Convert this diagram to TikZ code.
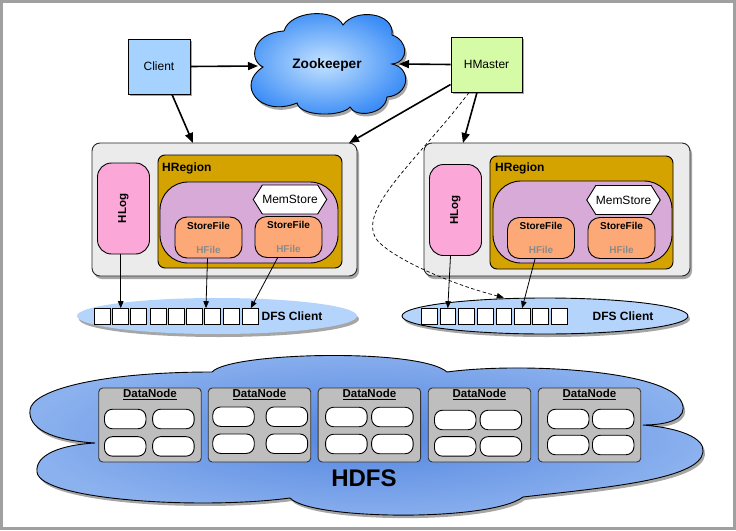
\documentclass[tikz,border=0pt]{standalone}
\usepackage{fontspec}
\setmainfont{Liberation Sans}
\usepackage{graphicx}
\usetikzlibrary{arrows.meta,shapes.geometric,shapes.symbols,shadows}
\definecolor{clientc}{HTML}{A6D2FF}
\definecolor{masterc}{HTML}{D6FBA6}
\definecolor{rsc}{HTML}{EBEBEB}
\definecolor{hlogc}{HTML}{FBA8D8}
\definecolor{hregc}{HTML}{D4A300}
\definecolor{storec}{HTML}{D7AAD7}
\definecolor{sfc}{HTML}{FDA977}
\definecolor{dfsc}{HTML}{B4D4FB}
\definecolor{dnc}{HTML}{BEBEBE}
\definecolor{zkin}{HTML}{C4E2FF}
\definecolor{zkout}{HTML}{3A8CF6}
\definecolor{hdin}{HTML}{5385E0}
\definecolor{hdout}{HTML}{8BB1EE}
\definecolor{hfilec}{HTML}{8A8A8A}
\definecolor{framec}{HTML}{A0A0A0}
\newcommand\myfs[1]{\fontsize{#1}{#1}\selectfont}
\begin{document}
\begin{tikzpicture}[x=1pt,y=-1pt,
 shd/.style={drop shadow={shadow xshift=2pt,shadow yshift=-3pt,opacity=0.35,fill=black}},
 sshd/.style={drop shadow={shadow xshift=1.5pt,shadow yshift=-1.5pt,opacity=0.35,fill=black}},
 box/.style={draw=black,line width=0.9pt,inner sep=0pt},
 topbox/.style={box,minimum height=55pt,font=\myfs{12},sshd},
 rsbox/.style={box,draw=black!85,fill=rsc,rounded corners=8pt,minimum width=265pt,minimum height=133pt,shd},
 hlog/.style={box,fill=hlogc,rounded corners=14pt,minimum width=52pt,minimum height=91pt,font=\bfseries\myfs{11.5}},
 hreg/.style={box,fill=hregc,rounded corners=7pt,minimum width=184pt,minimum height=113pt},
 store/.style={box,fill=storec,rounded corners=28pt,minimum width=178pt,minimum height=81pt},
 mem/.style={box,fill=white,signal,signal to=east and west,signal pointer angle=116,minimum width=72pt,minimum height=29pt,font=\myfs{12}},
 sfile/.style={box,fill=sfc,rounded corners=12pt,minimum width=67pt,minimum height=41pt,align=center,font=\bfseries\fontsize{10}{24}\selectfont},
 dfs/.style={ellipse,fill=dfsc,inner sep=0pt,minimum height=36pt,shd},
 dbox/.style={box,fill=white,minimum size=15.7pt},
 dnode/.style={box,draw=black!80,fill=dnc,rounded corners=4pt,minimum width=102.5pt,minimum height=74pt},
 pill/.style={box,fill=white,rounded corners=8pt,minimum width=41.5pt,minimum height=19.5pt},
 lbl/.style={inner sep=0pt,font=\bfseries\myfs{12}},
 arr/.style={line width=1.6pt,-{Triangle[length=10pt,width=8pt]}},
 tarr/.style={line width=0.8pt,-{Triangle[length=7pt,width=5.5pt]}},
 darr/.style={line width=0.7pt,dash pattern=on 3.5pt off 2.5pt,-{Triangle[length=7pt,width=5.5pt]}},
]
\useasboundingbox (0,0) rectangle (736,530);
\fill[white] (0,0) rectangle (736,530);
\draw[framec,line width=3pt] (1.5,1.5) rectangle (734.5,528.5);

% Zookeeper cloud
\path[draw=black,line width=0.9pt,inner color=zkin,outer color=zkout,shd]
 (263,67) .. controls (248,60) and (252,33) .. (284,31)
 .. controls (290,10) and (335,8) .. (343,25)
 .. controls (355,8) and (395,12) .. (392,35)
 .. controls (408,40) and (410,62) .. (392,64)
 .. controls (412,68) and (410,95) .. (387,97)
 .. controls (385,115) and (355,118) .. (350,107)
 .. controls (342,117) and (300,117) .. (297,103)
 .. controls (260,118) and (235,85) .. (263,67) -- cycle;
\node[lbl,font=\bfseries\myfs{13.7}] (zk) at (327,65) {Zookeeper};

% HDFS cloud
\path[draw=black,line width=0.9pt,inner color=hdin,outer color=hdout,shd]
 (95,443) .. controls (50,440) and (28,428) .. (30,410)
 .. controls (32,390) and (100,372) .. (212,372)
 .. controls (230,352) and (420,348) .. (447,372)
 .. controls (520,362) and (670,370) .. (682,403)
 .. controls (688,418) and (670,425) .. (643,425)
 .. controls (680,428) and (705,438) .. (703,452)
 .. controls (700,480) and (600,488) .. (523,497)
 .. controls (490,522) and (310,520) .. (290,498)
 .. controls (200,510) and (40,500) .. (37,472)
 .. controls (35,455) and (60,445) .. (95,443) -- cycle;
\node[lbl,font=\bfseries\myfs{24}] (hdfs) at (364,478) {HDFS};

% DataNodes
\foreach \d/\cx/\xa/\xb/\ya/\yb in {1/150/125.2/173.4/419/446.4, 2/259.5/233.5/286.9/416.7/443.7, 3/369.4/346.4/392.4/417/444, 4/479.5/455.2/500.9/420/446.4, 5/589.5/568.2/613.2/419/445}{
 \node[dnode] (dn\d) at (\cx,425) {};
 \node[lbl,font=\bfseries\myfs{11.5},anchor=north] (dl\d) at ([yshift=-1.5pt]dn\d.north) {\underline{DataNode}};
 \node[pill] (p\d-1) at (\xa,\ya) {};
 \node[pill] (p\d-2) at (\xb,\ya) {};
 \node[pill] (p\d-3) at (\xa,\yb) {};
 \node[pill] (p\d-4) at (\xb,\yb) {};
}

% top boxes
\node[topbox,fill=clientc,minimum width=62pt] (cl) at (159,66.5) {Client};
\node[topbox,fill=masterc,minimum width=71pt] (hm) at (486.5,64.5) {HMaster};

% region servers
\node[rsbox] (rs1) at (224.5,209.5) {};
\node[rsbox,minimum width=266pt] (rs2) at (557,209.5) {};
\node[hlog] (hl1) at (123.5,208.5) {\rotatebox{90}{HLog}};
\node[hlog] (hl2) at (455.5,210) {\rotatebox{90}{HLog}};
\node[hreg] (hr1) at (250,211.5) {};
\node[hreg,minimum width=183pt] (hr2) at (581.5,212.5) {};
\node[lbl,anchor=west] (hrl1) at (162,168) {HRegion};
\node[lbl,anchor=west] (hrl2) at (495,168) {HRegion};
\node[store] (st1) at (249,222.5) {};
\node[store,minimum width=179pt,minimum height=82pt] (st2) at (582.5,222) {};
\node[mem] (mem1) at (290,199.5) {MemStore};
\node[mem] (mem2) at (623.5,200) {MemStore};
\node[sfile] (sf1a) at (208.5,237.5) {StoreFile\\\color{hfilec}HFile};
\node[sfile] (sf1b) at (288.5,237) {StoreFile\\\color{hfilec}HFile};
\node[sfile] (sf2a) at (541,238) {StoreFile\\\color{hfilec}HFile};
\node[sfile] (sf2b) at (621.5,238) {StoreFile\\\color{hfilec}HFile};

% DFS clients
\node[dfs,minimum width=280pt] (dfs1) at (217,316) {};
\node[dfs,draw=black,line width=0.9pt,minimum width=286pt] (dfs2) at (545,316) {};
\foreach \i/\x in {1/102.75,2/120.75,3/138.75,4/158.75,5/176.75,6/194.75,7/212.75,8/231.75,9/250.75}{
 \node[dbox] (b1\i) at (\x,316.5) {};
}
\foreach \i/\x in {1/429.5,2/447.8,3/466.1,4/485.5,5/503.8,6/522.1,7/540.5,8/559.5}{
 \node[dbox] (b2\i) at (\x,316.5) {};
}
\node[lbl] (dc1) at (292,316) {DFS Client};
\node[lbl] (dc2) at (623,316) {DFS Client};

% connectors
\coordinate (zkL) at (258,66);
\coordinate (zkR) at (399,64);
\coordinate (rsA) at (193,143);
\coordinate (rsB) at (349,143);
\coordinate (rsC) at (463,143);
\draw[arr] (cl.east) -- (zkL);
\draw[arr] (hm.west) -- (zkR);
\draw[arr] ([xshift=13pt]cl.south) -- (rsA);
\draw[arr] ([yshift=-20pt]hm.west) -- (rsB);
\draw[arr] ([xshift=-9.5pt]hm.south) -- (rsC);
\draw[darr] ([xshift=-17.5pt]hm.south) .. controls (420,158) and (355,210) .. (377,240) .. controls (392,258) and (450,284) .. (b25.north |- dfs2.north);

\draw[tarr] (hl1.south -| b12.north) -- (b12.north);
\draw[tarr] ([xshift=-1pt]sf1a.south) -- ([xshift=1.5pt]b17.north west);
\draw[tarr] ([xshift=-11pt]sf1b.south) -- (b19.north);
\draw[tarr] ([xshift=-5pt]hl2.south) -- (b22.north);
\draw[tarr] ([xshift=-6pt]sf2a.south) -- (b26.north);
\end{tikzpicture}
\end{document}
